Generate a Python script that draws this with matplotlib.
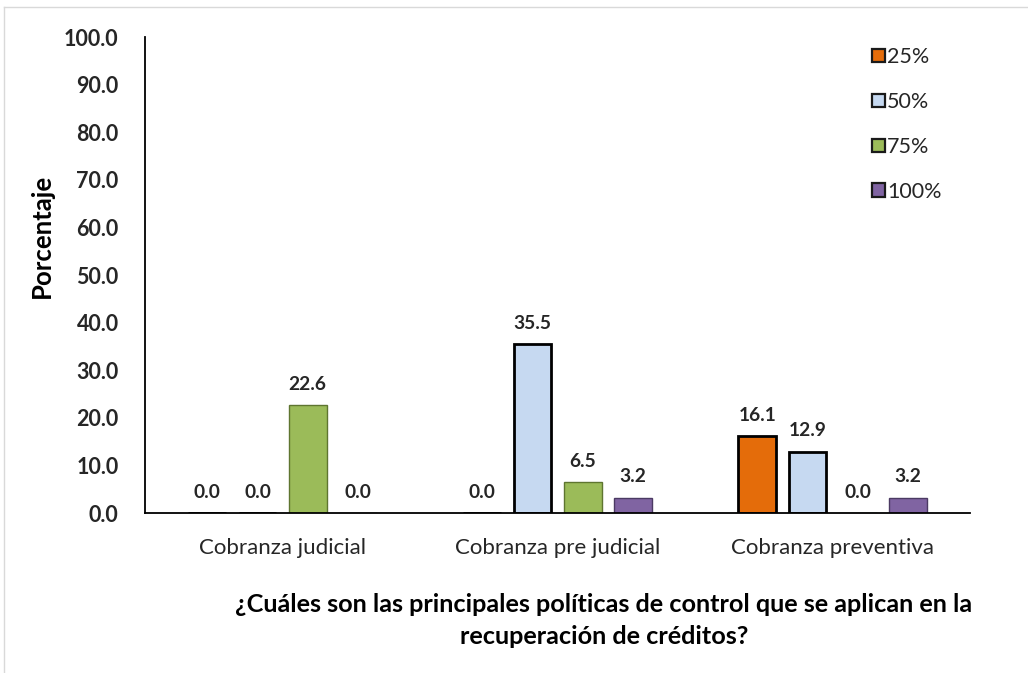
import matplotlib
matplotlib.use("Agg")
import matplotlib.pyplot as plt
from matplotlib.lines import Line2D
from matplotlib.patches import Patch
import numpy as np

categories = ["Cobranza judicial", "Cobranza pre judicial", "Cobranza preventiva"]
series_names = ["25%", "50%", "75%", "100%"]
values_25 = [0.0, 0.0, 16.1]
values_50 = [0.0, 35.5, 12.9]
values_75 = [22.6, 6.5, 0.0]
values_100 = [0.0, 3.2, 3.2]
y_ticks = [0, 10, 20, 30, 40, 50, 60, 70, 80, 90, 100]

series_values = [values_25, values_50, values_75, values_100]
fills = ["#E46C0A", "#C6D9F1", "#9BBB59", "#8064A2"]
edges = ["#000000", "#000000", "#5E7530", "#4B3A63"]
edge_w = [2.0, 2.0, 1.0, 1.0]

plt.rcParams["font.family"] = ["Lato", "DejaVu Sans"]

fig = plt.figure(figsize=(10.28, 6.73), dpi=100)
ax = fig.add_axes([145 / 1028, 1 - 513 / 673, 825 / 1028, (513 - 37) / 673])

x = np.arange(len(categories))
step = 0.182
width = 0.138
offsets = [-1.5 * step, -0.5 * step, 0.5 * step, 1.5 * step]

handles = []
for vals, off, fc, ec, lw, name in zip(series_values, offsets, fills, edges, edge_w, series_names):
    bars = ax.bar(x + off, vals, width, color=fc, edgecolor=ec, linewidth=lw, zorder=2)
    for b, v in zip(bars, vals):
        ax.annotate(f"{v:.1f}", (b.get_x() + b.get_width() / 2, v),
                    xytext=(0, 9), textcoords="offset points",
                    ha="center", va="bottom", fontsize=13.8, fontweight="bold",
                    color="#262626")
    handles.append(Patch(facecolor=fc, edgecolor="#1a1a1a", linewidth=1.6, label=name))

ax.set_xlim(-0.5, len(categories) - 0.5)
ax.set_ylim(0, 100)
ax.set_yticks(y_ticks)
ax.set_yticklabels([f"{t:.1f}" for t in y_ticks], fontsize=15.5, fontweight="bold",
                   color="#262626")
ax.set_xticks(x)
ax.set_xticklabels(categories, fontsize=16, color="#262626")
ax.tick_params(axis="y", length=0, pad=19)
ax.tick_params(axis="x", length=0, pad=18)

for side in ("top", "right"):
    ax.spines[side].set_visible(False)
for side in ("left", "bottom"):
    ax.spines[side].set_linewidth(1.3)
    ax.spines[side].set_color("#000000")

leg = ax.legend(handles=handles, loc="upper left", frameon=False, fontsize=15.5,
                labelspacing=1.16, handlelength=0.6, handleheight=0.6,
                handletextpad=0.1, borderaxespad=0, borderpad=0)
leg.set_bbox_to_anchor((872 / 1028, 1 - 47 / 673), transform=fig.transFigure)
for t in leg.get_texts():
    t.set_color("#262626")

fig.text(42 / 1028, 1 - 236 / 673, "Porcentaje", rotation=90, ha="center", va="center",
         fontsize=18.5, fontweight="bold", color="#000000")

fig.text(604 / 1028, 1 - 605 / 673, "¿Cuáles son las principales políticas de control que se aplican en la",
         ha="center", va="center", fontsize=18.2, fontweight="bold", color="#000000")
fig.text(604 / 1028, 1 - 637 / 673, "recuperación de créditos?",
         ha="center", va="center", fontsize=18.2, fontweight="bold", color="#000000")

# thin outer frame along the top and left edges
fig.add_artist(Line2D([4 / 1028, 1], [1 - 7 / 673, 1 - 7 / 673], transform=fig.transFigure,
                      color="#D9D9D9", linewidth=1))
fig.add_artist(Line2D([4 / 1028, 4 / 1028], [0, 1 - 7 / 673], transform=fig.transFigure,
                      color="#D9D9D9", linewidth=1))

fig.savefig("out.png", dpi=100)
